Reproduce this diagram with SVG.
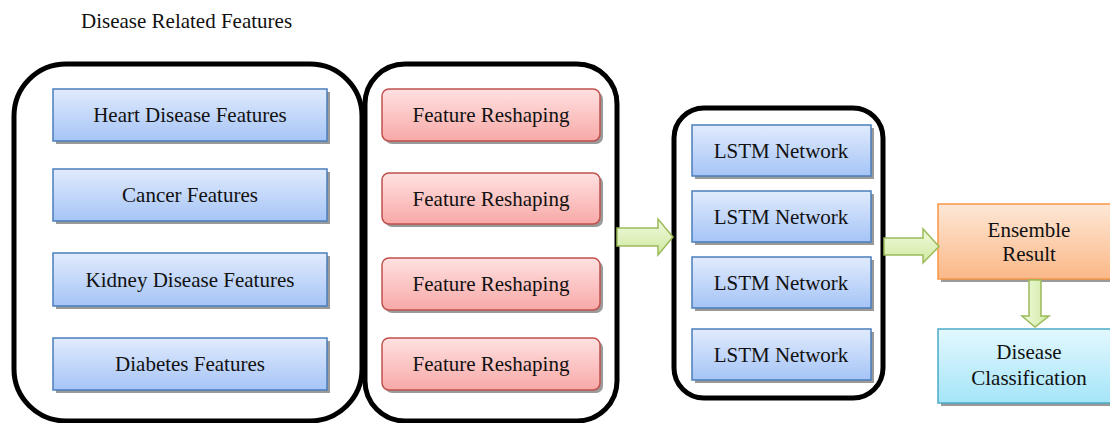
<svg xmlns="http://www.w3.org/2000/svg" width="1110" height="423" viewBox="0 0 1110 423">
  <defs>
    <linearGradient id="gBlue" x1="0" y1="0" x2="0" y2="1">
      <stop offset="0" stop-color="#e1ebfd"/>
      <stop offset="1" stop-color="#a5c4f6"/>
    </linearGradient>
    <linearGradient id="gRed" x1="0" y1="0" x2="0" y2="1">
      <stop offset="0" stop-color="#ffe1e1"/>
      <stop offset="1" stop-color="#f7a9a7"/>
    </linearGradient>
    <linearGradient id="gOrange" x1="0" y1="0" x2="0" y2="1">
      <stop offset="0" stop-color="#fde7d6"/>
      <stop offset="1" stop-color="#fbb887"/>
    </linearGradient>
    <linearGradient id="gCyan" x1="0" y1="0" x2="0" y2="1">
      <stop offset="0" stop-color="#e3f8fe"/>
      <stop offset="1" stop-color="#a5e5f8"/>
    </linearGradient>
    <linearGradient id="gGreen" x1="0" y1="0" x2="0" y2="1">
      <stop offset="0" stop-color="#f1fadf"/>
      <stop offset="1" stop-color="#cfe9a0"/>
    </linearGradient>
    <linearGradient id="gGreenH" x1="0" y1="0" x2="1" y2="0">
      <stop offset="0" stop-color="#f1fadf"/>
      <stop offset="1" stop-color="#cfe9a0"/>
    </linearGradient>
  </defs>
  <style>
    text { font-family: "Liberation Serif", "Times New Roman", serif; font-size: 21px; fill: #111; text-anchor: middle; }
    .group { fill: none; stroke: #000; stroke-width: 5; }
    .shadow { fill: #9a9a9a; }
    .blue { fill: url(#gBlue); stroke: #4a7ebb; stroke-width: 1.5; }
    .red { fill: url(#gRed); stroke: #c0504d; stroke-width: 1.5; }
    .orange { fill: url(#gOrange); stroke: #f79646; stroke-width: 1.5; }
    .cyan { fill: url(#gCyan); stroke: #4bacc6; stroke-width: 1.5; }
    .flow { fill: url(#gGreen); stroke: #9bbb59; stroke-width: 1.5; stroke-linejoin: miter; }
  </style>

  <rect width="1110" height="423" fill="#fff"/>

  <text id="title" x="81" y="28" style="text-anchor:start">Disease Related Features</text>

  <!-- grouping frames -->
  <g id="frames">
    <rect id="frame-features" class="group" x="14" y="64" width="348" height="357" rx="52" ry="52"/>
    <rect id="frame-reshape" class="group" x="365" y="64" width="252" height="357" rx="40" ry="40"/>
    <rect id="frame-lstm" class="group" x="674" y="108" width="209" height="290" rx="30" ry="30"/>
  </g>

  <!-- disease feature inputs -->
  <g id="heart-features">
    <rect class="shadow" x="56" y="92" width="274" height="52"/>
    <rect class="blue" x="53" y="89" width="274" height="52"/>
    <text x="190" y="122">Heart Disease Features</text>
  </g>
  <g id="cancer-features">
    <rect class="shadow" x="56" y="172" width="274" height="52"/>
    <rect class="blue" x="53" y="169" width="274" height="52"/>
    <text x="190" y="202">Cancer Features</text>
  </g>
  <g id="kidney-features">
    <rect class="shadow" x="56" y="256" width="274" height="53"/>
    <rect class="blue" x="53" y="253" width="274" height="53"/>
    <text x="190" y="287">Kidney Disease Features</text>
  </g>
  <g id="diabetes-features">
    <rect class="shadow" x="56" y="341" width="274" height="52"/>
    <rect class="blue" x="53" y="338" width="274" height="52"/>
    <text x="190" y="371">Diabetes Features</text>
  </g>

  <!-- reshaping stage -->
  <g id="reshape-1">
    <rect class="shadow" x="385" y="92" width="218" height="52" rx="7"/>
    <rect class="red" x="382" y="89" width="218" height="52" rx="7"/>
    <text x="491" y="122">Feature Reshaping</text>
  </g>
  <g id="reshape-2">
    <rect class="shadow" x="385" y="176" width="218" height="51" rx="7"/>
    <rect class="red" x="382" y="173" width="218" height="51" rx="7"/>
    <text x="491" y="206">Feature Reshaping</text>
  </g>
  <g id="reshape-3">
    <rect class="shadow" x="385" y="261" width="218" height="52" rx="7"/>
    <rect class="red" x="382" y="258" width="218" height="52" rx="7"/>
    <text x="491" y="291">Feature Reshaping</text>
  </g>
  <g id="reshape-4">
    <rect class="shadow" x="385" y="341" width="218" height="52" rx="7"/>
    <rect class="red" x="382" y="338" width="218" height="52" rx="7"/>
    <text x="491" y="371">Feature Reshaping</text>
  </g>

  <!-- LSTM stage -->
  <g id="lstm-1">
    <rect class="shadow" x="695" y="128" width="179" height="51"/>
    <rect class="blue" x="692" y="125" width="179" height="51"/>
    <text x="781" y="158">LSTM Network</text>
  </g>
  <g id="lstm-2">
    <rect class="shadow" x="695" y="194" width="179" height="51"/>
    <rect class="blue" x="692" y="191" width="179" height="51"/>
    <text x="781" y="224">LSTM Network</text>
  </g>
  <g id="lstm-3">
    <rect class="shadow" x="695" y="260" width="179" height="51"/>
    <rect class="blue" x="692" y="257" width="179" height="51"/>
    <text x="781" y="290">LSTM Network</text>
  </g>
  <g id="lstm-4">
    <rect class="shadow" x="695" y="332" width="179" height="51"/>
    <rect class="blue" x="692" y="329" width="179" height="51"/>
    <text x="781" y="362">LSTM Network</text>
  </g>

  <!-- outputs -->
  <g id="ensemble">
    <rect class="shadow" x="941" y="207" width="190" height="75"/>
    <rect class="orange" x="938" y="204" width="190" height="75"/>
    <text x="1029" y="237">Ensemble</text>
    <text x="1029" y="261">Result</text>
  </g>
  <g id="classification">
    <rect class="shadow" x="941" y="332" width="190" height="74"/>
    <rect class="cyan" x="938" y="329" width="190" height="74"/>
    <text x="1029" y="359">Disease</text>
    <text x="1029" y="385">Classification</text>
  </g>

  <!-- block arrows between stages -->
  <g id="connectors">
    <polygon class="flow" points="617,228 658,228 658,219 673,237 658,255 658,246 617,246"/>
    <polygon class="flow" points="884,238 923,238 923,229 939,246.5 923,263 923,255 884,255"/>
    <polygon class="flow" style="fill:url(#gGreenH)" points="1029,280 1041,280 1041,316 1049,316 1035,327 1022,316 1029,316"/>
  </g>
</svg>
